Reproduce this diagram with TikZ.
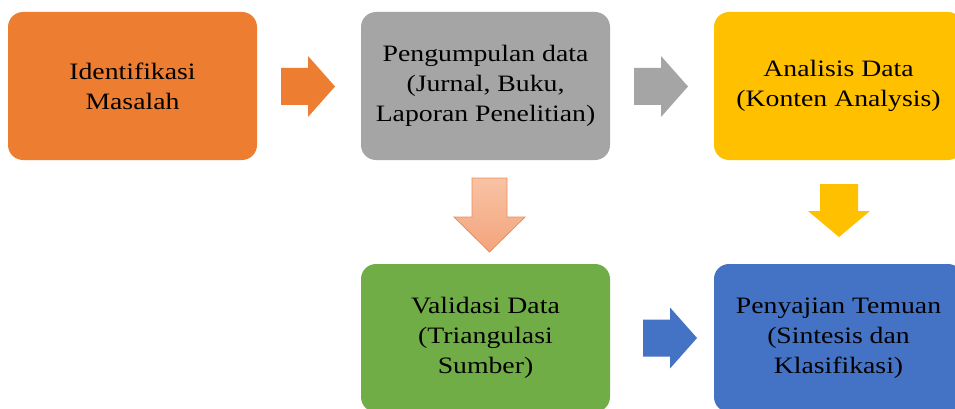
\documentclass[tikz,border=0pt]{standalone}
\usepackage{fontspec}
\setmainfont[FakeStretch=1.18]{Liberation Serif}
\definecolor{cOrange}{HTML}{ED7D31}
\definecolor{cGray}{HTML}{A5A5A5}
\definecolor{cYellow}{HTML}{FFC000}
\definecolor{cGreen}{HTML}{70AD47}
\definecolor{cBlue}{HTML}{4472C4}
\definecolor{cSalmonTop}{HTML}{F8C3A3}
\definecolor{cSalmonBot}{HTML}{F3A47C}
\definecolor{cSalmonLine}{HTML}{F08C5A}
\begin{document}
\begin{tikzpicture}[x=1pt,y=-1pt,
  box/.style={rounded corners=15pt, minimum width=249pt, minimum height=148pt,
    inner sep=0pt, align=center, text=black,
    font=\fontsize{23.5pt}{30pt}\selectfont},
  rarr/.pic={\path[pic actions] (-27,-18.5) -- (0,-18.5) -- (0,-30.5) -- (27,0)
     -- (0,30.5) -- (0,18.5) -- (-27,18.5) -- cycle;}
]
\useasboundingbox (0,0) rectangle (955,409);
\clip (0,0) rectangle (955,409);
\fill[white] (0,0) rectangle (955,409);

\node[box, fill=cOrange] (ident) at (132.5,86) {Identifikasi\\Masalah};
\node[box, fill=cGray] (kumpul) at (485.5,86) {Pengumpulan data\\(Jurnal, Buku,\\Laporan Penelitian)};
\node[box, fill=cYellow] (analisis) at (838.5,86) {Analisis Data\\(Konten Analysis)};
\node[box, fill=cGreen] (validasi) at (485.5,338) {Validasi Data\\(Triangulasi\\Sumber)};
\node[box, fill=cBlue] (sajian) at (838.5,338) {Penyajian Temuan\\(Sintesis dan\\Klasifikasi)};

% block arrows
\pic[fill=cOrange] at (308,86.5) {rarr};
\pic[fill=cGray] at (661,86.5) {rarr};
\pic[fill=cBlue] at (670,338) {rarr};

\path[top color=cSalmonTop, bottom color=cSalmonBot, draw=cSalmonLine, line width=0.8pt]
  (472,178) -- (507,178) -- (507,217) -- (525,217) -- (489.5,252)
  -- (454,217) -- (472,217) -- cycle;
\fill[cYellow]
  (820,184) -- (858,184) -- (858,211) -- (870,211) -- (839,237)
  -- (808,211) -- (820,211) -- cycle;
\end{tikzpicture}
\end{document}
